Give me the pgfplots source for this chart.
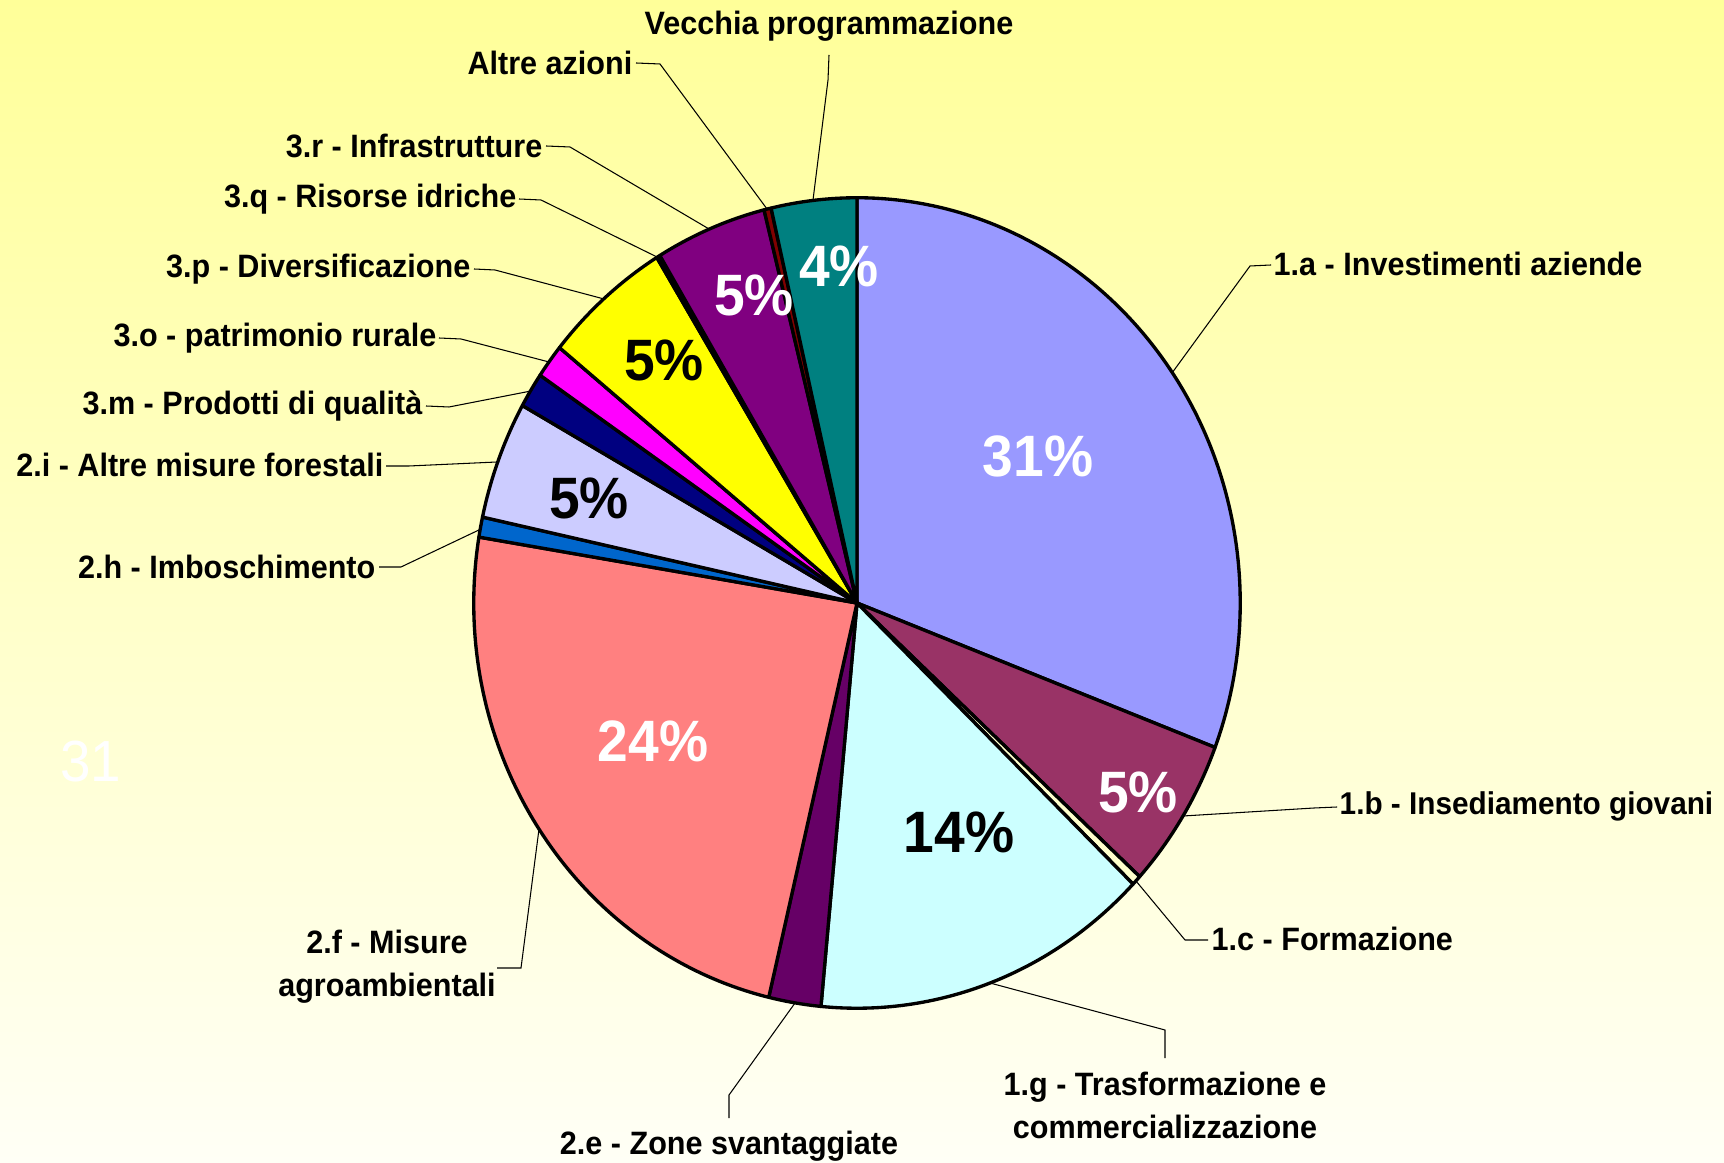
\documentclass[border=0pt]{standalone}
\usepackage{pgfplots}
\pgfplotsset{compat=1.18}
\usepackage{pgfplotstable}
\usepackage{fontspec}
\setmainfont{Liberation Sans}[FakeStretch=0.945]

\definecolor{bgtop}{HTML}{FFFF99}
\definecolor{bgbot}{HTML}{FFFFF6}
\definecolor{c1a}{HTML}{9999FF}
\definecolor{c1b}{HTML}{993366}
\definecolor{c1c}{HTML}{FFFFCC}
\definecolor{c1g}{HTML}{CCFFFF}
\definecolor{c2e}{HTML}{660066}
\definecolor{c2f}{HTML}{FF8080}
\definecolor{c2h}{HTML}{0066CC}
\definecolor{c2i}{HTML}{CCCCFF}
\definecolor{c3m}{HTML}{000080}
\definecolor{c3o}{HTML}{FF00FF}
\definecolor{c3p}{HTML}{FFFF00}
\definecolor{c3q}{HTML}{00FFFF}
\definecolor{c3r}{HTML}{800080}
\definecolor{caltre}{HTML}{800000}
\definecolor{cvec}{HTML}{008080}

% shares in percent, clockwise from 12 o'clock
\pgfplotstableread[col sep=comma]{
name,value,color
1.a,30.8,c1a
1.b,6.0,c1b
1.c,0.4,c1c
1.g,14.3,c1g
2.e,2.2,c2e
2.f,23.9,c2f
2.h,0.8,c2h
2.i,4.7,c2i
3.m,1.4,c3m
3.o,1.35,c3o
3.p,5.4,c3p
3.q,0.15,c3q
3.r,4.7,c3r
Altre,0.3,caltre
Vecchia,3.6,cvec
}\piedata

\newcommand\lbl{\fontsize{9.2}{12.2}\selectfont\bfseries}
\newcommand\pct{\fontsize{16.6}{18}\selectfont\bfseries}

\begin{document}
\begin{tikzpicture}
\begin{axis}[
  name=ax,
  x=0.01cm, y=0.01cm,
  xmin=0, xmax=1724, ymin=0, ymax=1163,
  y dir=reverse,
  axis line style={draw=none},
  xtick=\empty, ytick=\empty,
  clip=false,
  axis background/.style={top color=bgtop, bottom color=bgbot},
]
\pgfmathsetmacro{\angA}{90}
\pgfplotsforeachungrouped \i in {0,...,14}{%
  \pgfplotstablegetelem{\i}{value}\of\piedata \let\val\pgfplotsretval
  \pgfplotstablegetelem{\i}{color}\of\piedata \let\col\pgfplotsretval
  \pgfmathsetmacro{\angB}{\angA-3.6*\val}
  \edef\temp{\noexpand\filldraw[fill=\col,draw=black,line width=0.95pt,line join=round]
    (axis cs:857,603) -- ++(\angA:3.83cm and 4.05cm)
    arc[start angle=\angA,end angle=\angB,x radius=3.83cm,y radius=4.05cm] -- cycle;}%
  \temp
  \let\angA\angB
}

% leader lines
\begin{scope}[line width=0.3pt]
\draw (axis cs:829,55) -- (axis cs:828,80) -- (axis cs:813,200);
\draw (axis cs:636,63) -- (axis cs:660,64) -- (axis cs:767,209);
\draw (axis cs:546,146) -- (axis cs:570,147) -- (axis cs:709,229);
\draw (axis cs:519,199) -- (axis cs:541,200) -- (axis cs:657,257);
\draw (axis cs:474,269) -- (axis cs:495,270) -- (axis cs:604,299);
\draw (axis cs:439,338) -- (axis cs:461,339) -- (axis cs:549,362);
\draw (axis cs:426,406) -- (axis cs:449,407) -- (axis cs:531,391);
\draw (axis cs:386,466) -- (axis cs:409,466) -- (axis cs:497,462);
\draw (axis cs:379,567) -- (axis cs:401,567) -- (axis cs:481,529);
\draw (axis cs:497,968) -- (axis cs:521,968) -- (axis cs:539,829);
\draw (axis cs:729,1118) -- (axis cs:729,1095) -- (axis cs:795,1003);
\draw (axis cs:1165,1058) -- (axis cs:1165,1030) -- (axis cs:990,983);
\draw (axis cs:1208,940) -- (axis cs:1185,940) -- (axis cs:1136,881);
\draw (axis cs:1337,807) -- (axis cs:1314,808) -- (axis cs:1183,816);
\draw (axis cs:1271,265) -- (axis cs:1250,266) -- (axis cs:1172,373);
\end{scope}

% category labels
\begin{scope}[every node/.style={inner sep=0pt, font=\lbl}]
\node[anchor=center] at (axis cs:829,26) {Vecchia programmazione};
\node[anchor=east] at (axis cs:633,63) {Altre azioni};
\node[anchor=east] at (axis cs:543,146) {3.r - Infrastrutture};
\node[anchor=east] at (axis cs:517,199) {3.q - Risorse idriche};
\node[anchor=east] at (axis cs:471,269) {3.p - Diversificazione};
\node[anchor=east] at (axis cs:437,338) {3.o - patrimonio rurale};
\node[anchor=east] at (axis cs:423,406) {3.m - Prodotti di qualità};
\node[anchor=east] at (axis cs:384,465) {2.i - Altre misure forestali};
\node[anchor=east] at (axis cs:376,567) {2.h - Imboschimento};
\node[align=center] at (axis cs:387,967) {2.f - Misure\\agroambientali};
\node at (axis cs:729,1146) {2.e - Zone svantaggiate};
\node[align=center] at (axis cs:1165,1105) {1.g - Trasformazione e\\commercializzazione};
\node[anchor=west] at (axis cs:1211,939) {1.c - Formazione};
\node[anchor=west, font=\fontsize{8.95}{12}\selectfont\bfseries] at (axis cs:1339,806) {1.b - Insediamento giovani};
\node[anchor=west] at (axis cs:1273,264) {1.a - Investimenti aziende};
\end{scope}

% percentage labels
\begin{scope}[every node/.style={inner sep=0pt, font=\pct}]
\node[white] at (axis cs:1038,456) {31\%};
\node[white] at (axis cs:1138,792) {5\%};
\node[black] at (axis cs:959,832) {14\%};
\node[white] at (axis cs:653,741) {24\%};
\node[black] at (axis cs:589,498) {5\%};
\node[black] at (axis cs:664,360) {5\%};
\node[white] at (axis cs:754,295) {5\%};
\node[white] at (axis cs:839,266) {4\%};
\end{scope}
\node[white, inner sep=0pt, font=\fontsize{16.5}{18}\selectfont] at (axis cs:91,762) {31};
\end{axis}
\pgfresetboundingbox
\path[use as bounding box] (ax.south west) rectangle (ax.north east);
\end{tikzpicture}
\end{document}
